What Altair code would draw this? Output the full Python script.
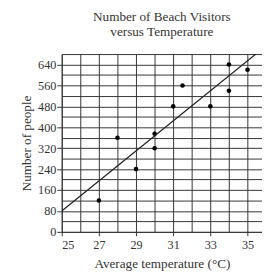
import altair as alt
import pandas as pd

temps = [27, 28, 29, 30, 30, 31, 31.5, 33, 34, 34, 35]
people = [120, 360, 240, 375, 320, 480, 560, 480, 640, 540, 620]
fit_x = [25, 35.45]
fit_y = [80, 680]

grid_x = list(range(25, 36))
grid_y = list(range(0, 681, 40))
label_x = [25, 27, 29, 31, 33, 35]
label_y = [0, 80, 160, 240, 320, 400, 480, 560, 640]

pts = pd.DataFrame({"t": temps, "p": people})
fit = pd.DataFrame({"t": fit_x, "p": fit_y})

FONT = "Liberation Serif"
xs = alt.Scale(domain=[25, 35.78], nice=False, zero=False)
ys = alt.Scale(domain=[0, 680], nice=False)

points = alt.Chart(pts).mark_circle(color="black", size=22, opacity=1).encode(
    x=alt.X("t:Q", scale=xs, axis=alt.Axis(values=grid_x, grid=True, labels=False,
                                            ticks=False, domain=False, title=None,
                                            gridColor="#333", gridWidth=1, gridOpacity=1)),
    y=alt.Y("p:Q", scale=ys, axis=alt.Axis(values=grid_y, grid=True, labels=False,
                                            ticks=False, domain=False, title=None,
                                            gridColor="#333", gridWidth=1, gridOpacity=1)),
)

line = alt.Chart(fit).mark_line(color="#222", strokeWidth=1.3, clip=True).encode(
    x=alt.X("t:Q", scale=xs, axis=alt.Axis(values=label_x, grid=False, orient="bottom",
                                            title="Average temperature (°C)",
                                            tickSize=4, tickColor="#333", domainColor="#333",
                                            labelPadding=3, titlePadding=6)),
    y=alt.Y("p:Q", scale=ys, axis=alt.Axis(values=label_y, grid=False, orient="left",
                                            title="Number of people",
                                            tickSize=5, tickColor="#333", domainColor="#333",
                                            labelPadding=1, titlePadding=4)),
)

chart = alt.layer(points, line).resolve_axis(x="independent", y="independent").properties(
    width=205, height=182,
    title=alt.TitleParams(["Number of Beach Visitors", "versus Temperature"],
                          font=FONT, fontSize=13.5, fontWeight="normal", color="#333",
                          anchor="middle", offset=16, lineHeight=15),
    autosize=alt.AutoSizeParams(type="none"),
    padding={"left": 55, "top": 44, "right": 0, "bottom": 41},
).configure_axis(
    labelFont=FONT, titleFont=FONT, labelFontSize=12.5, titleFontSize=13.5,
    labelColor="#333", titleColor="#333", titleFontWeight="normal",
).configure_view(stroke=None)

chart.save("out.html", embed_options={"renderer": "svg", "actions": False})
